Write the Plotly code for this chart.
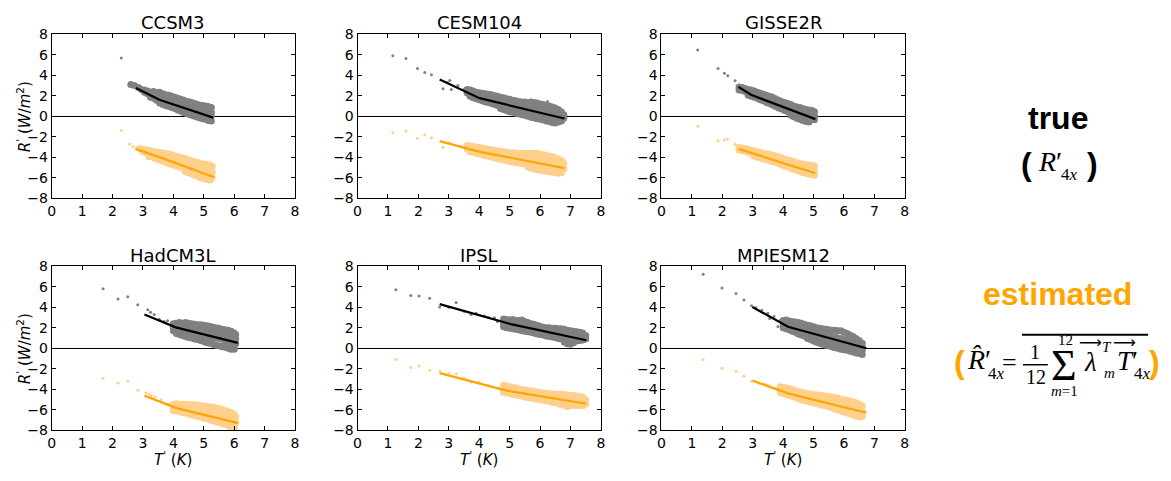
import plotly.graph_objects as go

# ---------------- data ----------------
MODELS = ["CCSM3", "CESM104", "GISSE2R", "HadCM3L", "IPSL", "MPIESM12"]

X_TICKS = [0, 1, 2, 3, 4, 5, 6, 7, 8]
Y_TICKS = [-8, -6, -4, -2, 0, 2, 4, 6, 8]

# columns: (T', R'1, R'2, ...)
CCSM3_TRUE_BAND = [
    (2.60, 3.10), (2.72, 3.00), (2.85, 2.80), (2.95, 2.60), (3.05, 2.55, 2.35),
    (3.15, 2.45, 2.20), (3.25, 2.35, 2.05, 1.85), (3.35, 2.40, 2.10, 1.75),
    (3.45, 2.30, 1.95, 1.55), (3.55, 2.35, 2.00, 1.60, 1.30), (3.65, 2.20, 1.85, 1.45, 1.15),
    (3.75, 2.10, 1.75, 1.40, 1.05), (3.85, 2.05, 1.70, 1.30, 0.95), (3.95, 1.95, 1.55, 1.20, 0.85),
    (4.05, 1.85, 1.50, 1.10, 0.75), (4.15, 1.75, 1.40, 1.00, 0.60), (4.25, 1.65, 1.30, 0.90, 0.50),
    (4.35, 1.55, 1.20, 0.80, 0.35), (4.45, 1.45, 1.10, 0.70, 0.25), (4.55, 1.40, 1.00, 0.60, 0.15),
    (4.65, 1.30, 0.90, 0.50, 0.05), (4.75, 1.20, 0.80, 0.40, -0.05), (4.85, 1.10, 0.75, 0.35, -0.15),
    (4.95, 1.05, 0.65, 0.25, -0.25), (5.05, 1.00, 0.60, 0.15, -0.30), (5.15, 0.95, 0.55, 0.10, -0.40),
    (5.25, 0.85, 0.40, 0.00, -0.45),
]
CCSM3_TRUE_OUT = [(2.29, 5.68), (2.56, 3.10), (2.68, 3.02)]
CCSM3_EST_BAND = [
    (2.90, -3.15), (3.00, -3.20, -3.45), (3.10, -3.25, -3.55), (3.20, -3.30, -3.60, -3.95),
    (3.30, -3.40, -3.70), (3.40, -3.45, -3.80, -4.10), (3.50, -3.50, -3.85, -4.20),
    (3.60, -3.55, -3.95, -4.30), (3.70, -3.60, -4.00, -4.40), (3.80, -3.65, -4.10, -4.55),
    (3.90, -3.70, -4.15, -4.65), (4.00, -3.80, -4.25, -4.75), (4.10, -3.90, -4.35, -4.85),
    (4.20, -4.00, -4.45, -4.95), (4.30, -4.05, -4.55, -5.05), (4.40, -4.15, -4.65, -5.15, -5.40),
    (4.50, -4.25, -4.75, -5.25, -5.50), (4.60, -4.35, -4.85, -5.35, -5.60),
    (4.70, -4.40, -4.90, -5.45, -5.75), (4.80, -4.50, -5.00, -5.55, -5.85),
    (4.90, -4.60, -5.10, -5.60, -6.00), (5.00, -4.65, -5.15, -5.70, -6.05),
    (5.10, -4.70, -5.25, -5.75, -6.15), (5.20, -4.75, -5.30, -5.85, -6.20),
    (5.28, -4.90, -5.45, -5.95),
]
CCSM3_EST_OUT = [(2.29, -1.38), (2.56, -2.70), (2.67, -2.95), (2.80, -3.05)]
CCSM3_TRUE_FIT = [(2.77, 2.76), (3.54, 1.60), (5.31, -0.13)]
CCSM3_EST_FIT = [(2.75, -3.17), (3.75, -4.20), (5.34, -5.93)]

CESM104_TRUE_BAND = [
    (3.60, 2.60, 2.30), (3.70, 2.55, 2.20, 1.95), (3.80, 2.45, 2.10, 1.80), (3.90, 2.35, 2.00, 1.70),
    (4.00, 2.30, 1.95, 1.60), (4.10, 2.25, 1.85, 1.50), (4.20, 2.20, 1.80, 1.40),
    (4.30, 2.15, 1.75, 1.35), (4.40, 2.10, 1.65, 1.25), (4.50, 2.00, 1.60, 1.15),
    (4.60, 1.95, 1.50, 1.05), (4.70, 1.85, 1.45, 1.00, 0.75), (4.80, 1.80, 1.40, 0.95, 0.65),
    (4.90, 1.70, 1.30, 0.85, 0.55), (5.00, 1.65, 1.25, 0.80, 0.45), (5.10, 1.55, 1.15, 0.70, 0.40),
    (5.20, 1.50, 1.10, 0.65, 0.30), (5.30, 1.45, 1.05, 0.60, 0.25), (5.40, 1.40, 0.95, 0.50, 0.15),
    (5.50, 1.40, 0.90, 0.45, 0.10), (5.60, 1.35, 0.85, 0.40, 0.00), (5.70, 1.40, 0.80, 0.30, -0.10),
    (5.80, 1.35, 0.75, 0.25, -0.15), (5.90, 1.30, 0.70, 0.20, -0.25), (6.00, 1.20, 0.65, 0.15, -0.30),
    (6.10, 1.15, 0.60, 0.10, -0.35), (6.20, 1.05, 0.55, 0.05, -0.45), (6.30, 1.00, 0.45, -0.05, -0.50),
    (6.40, 0.90, 0.40, -0.10, -0.60), (6.50, 0.80, 0.30, -0.20, -0.65), (6.60, 0.65, 0.20, -0.25, -0.55),
    (6.70, 0.45, 0.10, -0.30, -0.45), (6.78, 0.15, -0.20),
]
CESM104_TRUE_OUT = [(1.16, 5.90), (1.59, 5.62), (1.97, 4.64), (2.21, 4.27), (2.43, 4.05),
                    (2.81, 2.67), (2.95, 3.30), (3.03, 3.48), (3.08, 2.60), (3.30, 3.00),
                    (3.50, 2.60), (6.24, 1.44)]
CESM104_EST_BAND = [
    (3.60, -2.85, -3.15), (3.70, -2.90, -3.20, -3.45), (3.80, -2.95, -3.25, -3.50),
    (3.90, -3.00, -3.30, -3.60), (4.00, -3.05, -3.35, -3.65), (4.10, -3.10, -3.40, -3.75),
    (4.20, -3.15, -3.50, -3.85), (4.30, -3.20, -3.55, -3.90), (4.40, -3.25, -3.60, -3.95),
    (4.50, -3.30, -3.65, -4.05), (4.60, -3.35, -3.70, -4.10), (4.70, -3.40, -3.80, -4.20),
    (4.80, -3.45, -3.85, -4.25), (4.90, -3.50, -3.90, -4.30), (5.00, -3.55, -3.95, -4.40),
    (5.10, -3.55, -4.00, -4.45), (5.20, -3.60, -4.05, -4.50), (5.30, -3.60, -4.10, -4.55),
    (5.40, -3.60, -4.15, -4.60), (5.50, -3.60, -4.15, -4.65), (5.60, -3.60, -4.20, -4.70, -4.95),
    (5.70, -3.60, -4.20, -4.75, -5.05), (5.80, -3.65, -4.25, -4.80, -5.10),
    (5.90, -3.60, -4.30, -4.85, -5.20), (6.00, -3.70, -4.35, -4.90, -5.25),
    (6.10, -3.75, -4.40, -4.95, -5.30), (6.20, -3.80, -4.45, -5.00, -5.35),
    (6.30, -3.90, -4.50, -5.05, -5.40), (6.40, -3.95, -4.55, -5.10, -5.45),
    (6.50, -4.05, -4.60, -5.15, -5.50), (6.60, -4.15, -4.70, -5.20, -5.55),
    (6.70, -4.30, -4.80, -5.25, -5.50), (6.78, -4.60, -5.10),
]
CESM104_EST_OUT = [(1.16, -1.60), (1.59, -1.44), (1.97, -2.16), (2.21, -1.79), (2.43, -2.10),
                   (2.81, -3.01), (3.00, -2.60), (3.40, -2.95)]
CESM104_TRUE_FIT = [(2.70, 3.58), (4.01, 1.76), (6.80, -0.22)]
CESM104_EST_FIT = [(2.70, -2.42), (3.95, -3.42), (6.80, -5.05)]

GISSE2R_TRUE_BAND = [
    (2.55, 2.85, 2.55), (2.65, 2.80, 2.50), (2.75, 2.70, 2.40), (2.85, 2.60, 2.30, 2.05),
    (2.95, 2.55, 2.20, 1.95), (3.05, 2.45, 2.10, 1.85), (3.15, 2.35, 2.00, 1.75),
    (3.25, 2.25, 1.90, 1.60), (3.35, 2.15, 1.80, 1.50), (3.45, 2.05, 1.70, 1.35),
    (3.55, 1.95, 1.60, 1.25), (3.65, 1.85, 1.50, 1.10), (3.75, 1.70, 1.35, 0.95),
    (3.85, 1.55, 1.20, 0.80), (3.95, 1.45, 1.10, 0.70), (4.05, 1.35, 1.00, 0.55),
    (4.15, 1.25, 0.85, 0.45), (4.25, 1.15, 0.75, 0.30, 0.10), (4.35, 1.00, 0.65, 0.20, -0.05),
    (4.45, 0.90, 0.55, 0.10, -0.20), (4.55, 0.85, 0.45, 0.00, -0.30), (4.65, 0.75, 0.35, -0.10, -0.40),
    (4.75, 0.65, 0.25, -0.15, -0.50), (4.85, 0.60, 0.20, -0.25, -0.55), (4.95, 0.55, 0.10, -0.30),
    (5.03, 0.45, 0.00, -0.35),
]
GISSE2R_TRUE_OUT = [(1.19, 6.46), (1.86, 4.64), (2.07, 4.20), (2.18, 3.95), (2.42, 3.45)]
GISSE2R_EST_BAND = [
    (2.55, -3.05, -3.25), (2.65, -3.10, -3.35), (2.75, -3.15, -3.40), (2.85, -3.20, -3.50),
    (2.95, -3.30, -3.60), (3.05, -3.35, -3.65, -3.90), (3.15, -3.45, -3.75, -4.00),
    (3.25, -3.50, -3.80, -4.05), (3.35, -3.60, -3.90, -4.15), (3.45, -3.65, -3.95, -4.20),
    (3.55, -3.70, -4.00, -4.30), (3.65, -3.80, -4.10, -4.40), (3.75, -3.85, -4.20, -4.50),
    (3.85, -3.95, -4.30, -4.60), (3.95, -4.05, -4.40, -4.75), (4.05, -4.15, -4.50, -4.85),
    (4.15, -4.25, -4.60, -4.95), (4.25, -4.30, -4.70, -5.05), (4.35, -4.40, -4.80, -5.15),
    (4.45, -4.50, -4.90, -5.25), (4.55, -4.60, -5.00, -5.35), (4.65, -4.65, -5.10, -5.50),
    (4.75, -4.70, -5.15, -5.55), (4.85, -4.75, -5.20, -5.65), (4.95, -4.80, -5.25, -5.70),
    (5.03, -4.85, -5.35, -5.75),
]
GISSE2R_EST_OUT = [(1.20, -0.97), (1.86, -2.38), (2.06, -2.32), (2.17, -2.23), (2.42, -2.73)]
GISSE2R_TRUE_FIT = [(2.53, 2.86), (2.96, 2.07), (5.06, -0.28)]
GISSE2R_EST_FIT = [(2.53, -3.17), (5.06, -5.55)]

HADCM3L_TRUE_BAND = [
    (4.00, 2.40, 2.05, 1.70), (4.10, 2.45, 2.10, 1.70, 1.45), (4.20, 2.50, 2.10, 1.70, 1.35),
    (4.30, 2.45, 2.05, 1.65, 1.25), (4.40, 2.50, 2.00, 1.55, 1.15), (4.50, 2.45, 1.95, 1.50, 1.05),
    (4.60, 2.40, 1.90, 1.45, 1.00), (4.70, 2.35, 1.85, 1.40, 0.90), (4.80, 2.30, 1.80, 1.35, 0.85),
    (4.90, 2.30, 1.75, 1.30, 0.75), (5.00, 2.25, 1.70, 1.20, 0.65), (5.10, 2.20, 1.65, 1.15, 0.55),
    (5.20, 2.15, 1.60, 1.10, 0.50), (5.30, 2.05, 1.55, 1.05, 0.40), (5.40, 2.00, 1.50, 1.00, 0.30),
    (5.50, 1.95, 1.45, 0.95, 0.25), (5.60, 1.85, 1.40, 0.90, 0.15), (5.70, 1.80, 1.35, 0.80, 0.45, 0.10),
    (5.80, 1.75, 1.30, 0.75, 0.40, 0.00), (5.90, 1.65, 1.20, 0.70, 0.30, -0.10),
    (6.00, 1.50, 1.10, 0.60, 0.25, -0.10), (6.05, 1.35, 0.90, 0.45),
]
HADCM3L_TRUE_OUT = [(1.69, 5.80), (2.18, 4.80), (2.50, 5.02), (2.83, 4.24), (3.16, 3.76),
                    (3.25, 3.50), (3.37, 3.29), (3.54, 2.82), (3.70, 2.60), (3.81, 2.67)]
HADCM3L_EST_BAND = [
    (4.00, -5.45, -5.75, -6.05), (4.10, -5.40, -5.75, -6.10), (4.20, -5.45, -5.80, -6.15),
    (4.30, -5.45, -5.85, -6.25), (4.40, -5.45, -5.90, -6.30), (4.50, -5.50, -5.95, -6.40),
    (4.60, -5.50, -6.00, -6.50), (4.70, -5.50, -6.05, -6.55), (4.80, -5.55, -6.10, -6.65),
    (4.90, -5.60, -6.15, -6.70), (5.00, -5.60, -6.20, -6.80), (5.10, -5.65, -6.25, -6.85),
    (5.20, -5.70, -6.30, -6.95), (5.30, -5.75, -6.40, -7.05), (5.40, -5.80, -6.45, -7.15),
    (5.50, -5.85, -6.50, -7.25), (5.60, -5.95, -6.55, -7.35), (5.70, -6.05, -6.60, -7.40),
    (5.80, -6.15, -6.70, -7.50), (5.90, -6.25, -6.80, -7.60, -7.85), (6.00, -6.40, -6.90, -7.50, -7.80),
    (6.05, -6.70, -7.20),
]
HADCM3L_EST_OUT = [(1.69, -2.92), (2.18, -3.39), (2.50, -3.20), (2.83, -4.08), (3.10, -4.33),
                   (3.20, -4.45), (3.27, -4.61), (3.40, -4.75), (3.60, -5.00), (3.85, -5.40)]
HADCM3L_TRUE_FIT = [(3.05, 3.29), (4.08, 2.04), (6.12, 0.53)]
HADCM3L_EST_FIT = [(3.05, -4.61), (4.08, -5.80), (6.12, -7.28)]

IPSL_TRUE_BAND = [
    (4.80, 2.85, 2.45, 2.10), (4.90, 2.80, 2.40, 2.00), (5.00, 2.75, 2.35, 1.95), (5.10, 2.80, 2.30, 1.90),
    (5.20, 2.70, 2.25, 1.85), (5.30, 2.70, 2.20, 1.80), (5.40, 2.75, 2.15, 1.70), (5.50, 2.60, 2.10, 1.65),
    (5.60, 2.50, 2.05, 1.60), (5.70, 2.40, 2.00, 1.55), (5.80, 2.35, 1.95, 1.50), (5.90, 2.25, 1.90, 1.40),
    (6.00, 2.15, 1.85, 1.35), (6.10, 2.05, 1.75, 1.30), (6.20, 2.00, 1.70, 1.20), (6.30, 2.00, 1.65, 1.15),
    (6.40, 1.95, 1.60, 1.10), (6.50, 1.95, 1.55, 1.05), (6.60, 1.90, 1.50, 0.95), (6.70, 1.90, 1.45, 0.90),
    (6.80, 1.85, 1.40, 0.85, 0.60), (6.90, 1.75, 1.35, 0.80, 0.45), (7.00, 1.70, 1.30, 0.75, 0.40),
    (7.10, 1.65, 1.25, 0.70, 0.55), (7.20, 1.60, 1.20, 0.70), (7.30, 1.55, 1.10, 0.75),
    (7.40, 1.50, 1.05, 0.80), (7.50, 1.25, 0.90),
]
IPSL_TRUE_OUT = [(1.26, 5.71), (1.75, 5.15), (2.02, 5.08), (2.37, 4.86), (2.70, 4.02), (3.00, 4.00),
                 (3.24, 4.45), (3.50, 3.60), (3.73, 3.29), (3.90, 3.40), (4.17, 3.14), (4.30, 3.00),
                 (4.50, 2.98), (4.60, 2.60)]
IPSL_EST_BAND = [
    (4.80, -3.60, -3.95, -4.25), (4.90, -3.65, -4.00, -4.35), (5.00, -3.75, -4.10, -4.40),
    (5.10, -3.80, -4.15, -4.50), (5.20, -3.85, -4.20, -4.55), (5.30, -3.95, -4.30, -4.60),
    (5.40, -4.00, -4.35, -4.65), (5.50, -4.05, -4.40, -4.75), (5.60, -4.10, -4.45, -4.80),
    (5.70, -4.15, -4.50, -4.85), (5.80, -4.20, -4.55, -4.90), (5.90, -4.25, -4.60, -4.95),
    (6.00, -4.30, -4.65, -5.00), (6.10, -4.35, -4.70, -5.05), (6.20, -4.40, -4.75, -5.10),
    (6.30, -4.40, -4.80, -5.15), (6.40, -4.45, -4.85, -5.25), (6.50, -4.45, -4.90, -5.30),
    (6.60, -4.50, -4.95, -5.40), (6.70, -4.45, -5.00, -5.50), (6.80, -4.50, -5.00, -5.55),
    (6.90, -4.55, -5.05, -5.70), (7.00, -4.60, -5.10, -5.60), (7.10, -4.60, -5.15, -5.55),
    (7.20, -4.65, -5.20, -5.60), (7.30, -4.70, -5.25, -5.55), (7.40, -4.75, -5.25, -5.60),
    (7.50, -5.00, -5.40),
]
IPSL_EST_OUT = [(1.26, -1.10), (1.75, -1.88), (2.02, -1.73), (2.37, -2.13), (2.70, -2.20), (3.00, -2.40),
                (3.24, -2.50), (3.50, -2.90), (3.73, -3.29), (4.00, -3.30), (4.30, -3.60), (4.60, -3.85)]
IPSL_TRUE_FIT = [(2.70, 4.30), (5.04, 2.35), (7.52, 0.78)]
IPSL_EST_FIT = [(2.70, -2.42), (4.93, -4.14), (7.52, -5.40)]

MPIESM12_TRUE_BAND = [
    (4.00, 2.70, 2.35, 2.00), (4.10, 2.75, 2.30, 1.90), (4.20, 2.65, 2.25, 1.80), (4.30, 2.60, 2.15, 1.65),
    (4.40, 2.55, 2.10, 1.55), (4.50, 2.50, 2.00, 1.40), (4.60, 2.45, 1.90, 1.30), (4.70, 2.35, 1.85, 1.20),
    (4.80, 2.25, 1.75, 1.10, 0.95), (4.90, 2.20, 1.70, 1.05, 0.85), (5.00, 2.10, 1.60, 1.00, 0.70),
    (5.10, 2.00, 1.55, 0.90, 0.60), (5.20, 1.95, 1.45, 0.85, 0.50), (5.30, 1.90, 1.35, 0.75, 0.40),
    (5.40, 1.85, 1.30, 0.70, 0.30), (5.50, 1.80, 1.20, 0.60, 0.25), (5.60, 1.75, 1.15, 0.55, 0.15),
    (5.70, 1.75, 1.10, 0.45, 0.05), (5.80, 1.70, 1.00, 0.40, 0.00), (5.90, 1.70, 0.95, 0.30, -0.10),
    (6.00, 1.55, 0.85, 0.25, -0.15), (6.10, 1.45, 0.80, 0.20, -0.20), (6.20, 1.30, 0.70, 0.10, -0.30),
    (6.30, 1.15, 0.60, 0.05, -0.35), (6.40, 0.95, 0.45, 0.00, -0.45), (6.50, 0.75, 0.30, -0.10, -0.50),
    (6.60, 0.50, 0.15, -0.20, -0.60),
]
MPIESM12_TRUE_OUT = [(1.37, 7.22), (1.99, 5.87), (2.45, 5.33), (2.71, 4.71), (2.96, 4.14), (3.10, 3.95),
                     (3.30, 3.70), (3.50, 3.40), (3.56, 2.89), (3.70, 3.10), (3.83, 2.13), (3.90, 2.70)]
MPIESM12_EST_BAND = [
    (3.90, -3.75, -4.05, -4.30), (4.00, -3.80, -4.10, -4.40), (4.10, -3.85, -4.20, -4.50),
    (4.20, -3.95, -4.30, -4.60), (4.30, -4.00, -4.35, -4.70), (4.40, -4.10, -4.45, -4.80),
    (4.50, -4.20, -4.55, -4.90), (4.60, -4.25, -4.60, -5.00), (4.70, -4.35, -4.70, -5.10),
    (4.80, -4.40, -4.75, -5.15), (4.90, -4.45, -4.85, -5.25), (5.00, -4.50, -4.90, -5.30),
    (5.10, -4.55, -4.95, -5.40), (5.20, -4.55, -5.00, -5.45), (5.30, -4.60, -5.10, -5.55),
    (5.40, -4.65, -5.15, -5.60), (5.50, -4.70, -5.20, -5.70), (5.60, -4.75, -5.30, -5.80),
    (5.70, -4.80, -5.35, -5.90), (5.80, -4.85, -5.45, -6.00), (5.90, -4.95, -5.50, -6.10),
    (6.00, -5.00, -5.60, -6.20), (6.10, -5.05, -5.65, -6.30), (6.20, -5.15, -5.75, -6.40),
    (6.30, -5.20, -5.85, -6.50), (6.40, -5.30, -5.90, -6.60), (6.50, -5.45, -6.00, -6.70),
    (6.60, -5.60, -6.10, -6.65),
]
MPIESM12_EST_OUT = [(1.37, -1.10), (1.99, -1.94), (2.45, -2.26), (2.71, -2.73), (2.96, -3.20),
                    (3.20, -3.40), (3.40, -3.50), (3.50, -3.60), (3.80, -3.90)]
MPIESM12_TRUE_FIT = [(2.99, 4.02), (4.16, 2.10), (6.74, 0.00)]
MPIESM12_EST_FIT = [(2.99, -3.14), (4.16, -4.39), (6.74, -6.27)]

PANEL_DATA = {
    "CCSM3": (CCSM3_TRUE_BAND, CCSM3_TRUE_OUT, CCSM3_EST_BAND, CCSM3_EST_OUT, CCSM3_TRUE_FIT, CCSM3_EST_FIT),
    "CESM104": (CESM104_TRUE_BAND, CESM104_TRUE_OUT, CESM104_EST_BAND, CESM104_EST_OUT, CESM104_TRUE_FIT, CESM104_EST_FIT),
    "GISSE2R": (GISSE2R_TRUE_BAND, GISSE2R_TRUE_OUT, GISSE2R_EST_BAND, GISSE2R_EST_OUT, GISSE2R_TRUE_FIT, GISSE2R_EST_FIT),
    "HadCM3L": (HADCM3L_TRUE_BAND, HADCM3L_TRUE_OUT, HADCM3L_EST_BAND, HADCM3L_EST_OUT, HADCM3L_TRUE_FIT, HADCM3L_EST_FIT),
    "IPSL": (IPSL_TRUE_BAND, IPSL_TRUE_OUT, IPSL_EST_BAND, IPSL_EST_OUT, IPSL_TRUE_FIT, IPSL_EST_FIT),
    "MPIESM12": (MPIESM12_TRUE_BAND, MPIESM12_TRUE_OUT, MPIESM12_EST_BAND, MPIESM12_EST_OUT, MPIESM12_TRUE_FIT, MPIESM12_EST_FIT),
}

# ---------------- styling ----------------
W, H = 1171, 481
GREY = "#808080"
LIGHT_ORANGE = "#FFD08C"
ORANGE = "#FFA500"
SANS_MPL = "DejaVu Sans"
TICK_FONT = dict(family=SANS_MPL, size=14, color="black")

COL_PX = [(48, 293), (356, 601), (662, 907)]
ROW_PX = [(27, 197), (267, 437)]
TITLE_Y = [15, 256]


def fx(p):
    return p / W


def fy(p):
    return 1 - p / H


def flatten(cols):
    xs, ys = [], []
    for c in cols:
        for v in c[1:]:
            xs.append(c[0])
            ys.append(v)
    return xs, ys


fig = go.Figure()
annotations = []
shapes = []

for i, name in enumerate(MODELS):
    r, c = divmod(i, 3)
    ax = "" if i == 0 else str(i + 1)
    xref, yref = "x" + ax, "y" + ax
    tb, to, eb, eo, tf, ef = PANEL_DATA[name]

    bx, by = flatten(tb)
    fig.add_trace(go.Scatter(x=bx, y=by, mode="markers", xaxis=xref, yaxis=yref,
                             marker=dict(color=GREY, size=7, line=dict(width=0)), showlegend=False))
    fig.add_trace(go.Scatter(x=[p[0] for p in to], y=[p[1] for p in to], mode="markers",
                             xaxis=xref, yaxis=yref,
                             marker=dict(color=GREY, size=3, line=dict(width=0)), showlegend=False))
    ex, ey = flatten(eb)
    fig.add_trace(go.Scatter(x=ex, y=ey, mode="markers", xaxis=xref, yaxis=yref,
                             marker=dict(color=LIGHT_ORANGE, size=7, line=dict(width=0)), showlegend=False))
    fig.add_trace(go.Scatter(x=[p[0] for p in eo], y=[p[1] for p in eo], mode="markers",
                             xaxis=xref, yaxis=yref,
                             marker=dict(color=LIGHT_ORANGE, size=3, line=dict(width=0)), showlegend=False))
    fig.add_trace(go.Scatter(x=[p[0] for p in tf], y=[p[1] for p in tf], mode="lines",
                             xaxis=xref, yaxis=yref, line=dict(color="black", width=2.2), showlegend=False))
    fig.add_trace(go.Scatter(x=[p[0] for p in ef], y=[p[1] for p in ef], mode="lines",
                             xaxis=xref, yaxis=yref, line=dict(color=ORANGE, width=2.2), showlegend=False))

    x0, x1 = COL_PX[c]
    y0, y1 = ROW_PX[r]
    common = dict(showline=True, linecolor="black", linewidth=1, mirror="ticks",
                  ticks="inside", ticklen=4, tickwidth=1, tickcolor="black",
                  showgrid=False, tickfont=TICK_FONT, fixedrange=True)
    fig.update_layout(**{
        "xaxis" + ax: dict(domain=[fx(x0), fx(x1)], range=[0, 8], tickvals=X_TICKS,
                           zeroline=False, anchor=yref, **common),
        "yaxis" + ax: dict(domain=[fy(y1), fy(y0)], range=[-8, 8], tickvals=Y_TICKS,
                           zeroline=True, zerolinecolor="black", zerolinewidth=1,
                           anchor=xref, **common),
    })
    # subplot title
    annotations.append(dict(text=name, x=fx((x0 + x1) / 2), y=fy(TITLE_Y[r]), xref="paper", yref="paper",
                            showarrow=False, xanchor="center", yanchor="middle",
                            font=dict(family=SANS_MPL, size=18, color="black")))
    if c == 0:
        annotations.append(dict(text="<i>R</i><sup>'</sup> (<i>W</i>/<i>m</i><sup>2</sup>)",
                                x=fx(20), y=fy((y0 + y1) / 2), xref="paper", yref="paper",
                                showarrow=False, textangle=-90, xanchor="center", yanchor="middle",
                                font=dict(family=SANS_MPL, size=15, color="black")))
    if r == 1:
        annotations.append(dict(text="<i>T</i><sup>'</sup> (<i>K</i>)",
                                x=fx((x0 + x1) / 2), y=fy(467), xref="paper", yref="paper",
                                showarrow=False, xanchor="center", yanchor="middle",
                                font=dict(family=SANS_MPL, size=15, color="black")))


def txt(text, x, y, size, color="black", family="Liberation Serif"):
    annotations.append(dict(text=text, x=fx(x), y=fy(y), xref="paper", yref="paper",
                            showarrow=False, xanchor="center", yanchor="middle",
                            font=dict(family=family, size=size, color=color)))


SANS = "Liberation Sans"
# "true" block
txt("<b>true</b>", 1061, 114, 32, "black", SANS)
txt("<b>(</b>", 1030, 161, 32, "black", SANS)
txt("<i>R</i>′", 1053, 159, 28)
txt("4<i>x</i>", 1073, 172, 17)
txt("<b>)</b>", 1096, 161, 32, "black", SANS)

# "estimated" block
txt("<b>estimated</b>", 1061, 296, 32, ORANGE, SANS)
txt("<b>(</b>", 962, 366, 32, ORANGE, SANS)
txt("<i>R̂</i>′", 982, 364, 28)
txt("4<i>x</i>", 999, 378, 17)
txt("=", 1012, 367, 26)
txt("1", 1038, 356, 20)
txt("12", 1039, 382, 20)
txt("Σ", 1067, 370, 44)
txt("12", 1069, 343, 15)
txt("<i>m</i>=1", 1068, 396, 15)
txt("<i>λ</i>", 1094, 366, 27)
txt("⟶", 1094, 346, 16, "black", "DejaVu Sans")
txt("<i>T</i>", 1111, 351, 15)
txt("<i>m</i>", 1113, 378, 15)
txt("<i>T</i>′", 1131, 365, 27)
txt("⟶", 1128, 346, 16, "black", "DejaVu Sans")
txt("4<i>x</i>", 1146, 378, 17)
txt("<b>)</b>", 1158, 366, 32, ORANGE, SANS)

shapes.append(dict(type="line", xref="paper", yref="paper", x0=fx(1026), x1=fx(1051),
                   y0=fy(369), y1=fy(369), line=dict(color="black", width=1.5)))
shapes.append(dict(type="line", xref="paper", yref="paper", x0=fx(1025), x1=fx(1152),
                   y0=fy(338), y1=fy(338), line=dict(color="black", width=2)))

fig.update_layout(width=W, height=H, margin=dict(l=0, r=0, t=0, b=0),
                  paper_bgcolor="white", plot_bgcolor="white",
                  annotations=annotations, shapes=shapes, showlegend=False)

fig.write_html("out.html")
